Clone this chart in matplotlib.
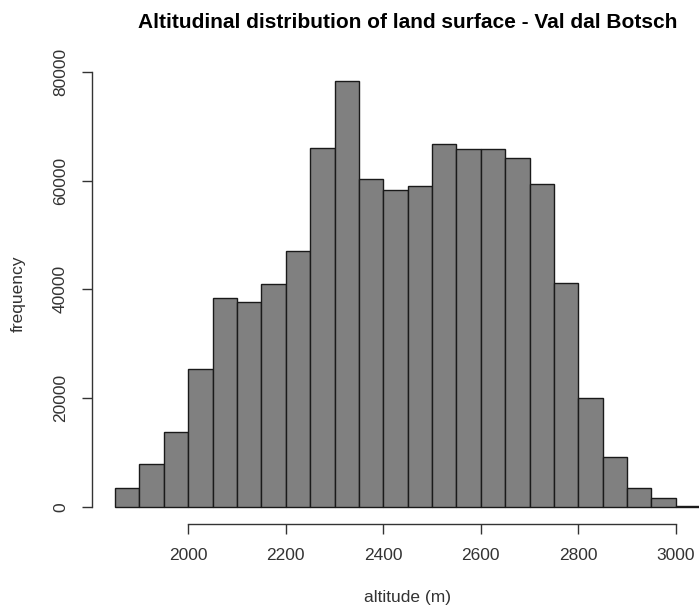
import numpy as np
import matplotlib
matplotlib.use("Agg")
import matplotlib.pyplot as plt

plt.rcParams['font.family'] = ['Liberation Sans', 'DejaVu Sans']

# histogram of altitudes, 50 m bins
bin_left = [1850, 1900, 1950, 2000, 2050, 2100, 2150, 2200, 2250, 2300, 2350, 2400,
            2450, 2500, 2550, 2600, 2650, 2700, 2750, 2800, 2850, 2900, 2950, 3000]
counts = [3400, 7900, 13700, 25300, 38400, 37700, 41000, 47000, 66000, 78400, 60300, 58200,
          59000, 66700, 65800, 65800, 64200, 59400, 41100, 20100, 9100, 3450, 1650, 250]
bin_width = 50

x_ticks = [2000, 2200, 2400, 2600, 2800, 3000]
y_ticks = [0, 20000, 40000, 60000, 80000]

fig = plt.figure(figsize=(6.99, 6.08), dpi=100)
# plot region runs past the right edge, as in the cropped reference
ax = fig.add_axes([0.1312, 0.1382, 0.904, 0.7572])

ax.bar(bin_left, counts, width=bin_width, align='edge',
       color='#808080', edgecolor='#1a1a1a', linewidth=1.0)

# R style 4% padding
xr = bin_left[-1] + bin_width - bin_left[0]
ax.set_xlim(bin_left[0] - 0.04 * xr, bin_left[-1] + bin_width + 0.04 * xr)
ymax = max(counts)
ax.set_ylim(-0.04 * ymax, 1.04 * ymax)

for s in ['top', 'right']:
    ax.spines[s].set_visible(False)
ax.spines['left'].set_bounds(y_ticks[0], y_ticks[-1])
ax.spines['bottom'].set_bounds(x_ticks[0], x_ticks[-1])
for s in ['left', 'bottom']:
    ax.spines[s].set_color('#333333')
    ax.spines[s].set_linewidth(1.0)

ax.set_xticks(x_ticks)
ax.set_yticks(y_ticks)
ax.set_yticklabels([str(v) for v in y_ticks], rotation=90, va='center')
ax.tick_params(axis='both', length=7, width=1.0, color='#333333',
               labelsize=12.5, labelcolor='#333333')
ax.tick_params(axis='x', pad=10)
ax.tick_params(axis='y', pad=10)

ax.set_xlabel('altitude (m)', fontsize=12.5, color='#333333', labelpad=20)
ax.set_ylabel('frequency', fontsize=12.5, color='#333333', labelpad=20)
# title centred over the (partly cropped) plot region
fig.text(0.5833, 0.9638, 'Altitudinal distribution of land surface - Val dal Botsch',
         fontsize=15, fontweight='bold', ha='center', va='center')

fig.savefig('out.png', dpi=100)
